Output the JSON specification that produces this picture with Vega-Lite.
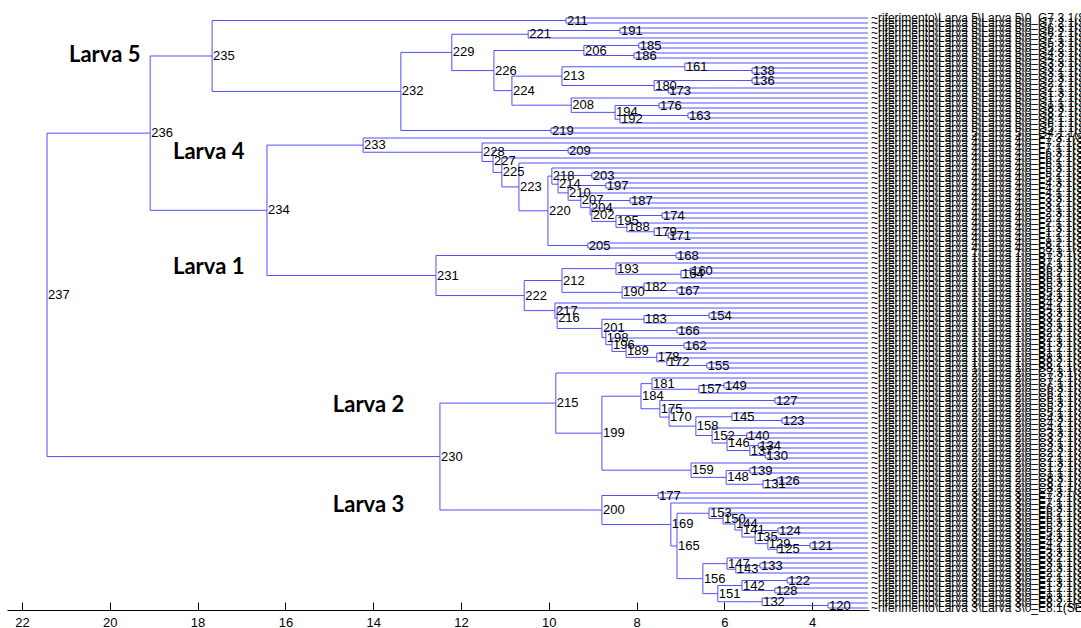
{
"$schema": "https://vega.github.io/schema/vega-lite/v6.json",
"width": 862, "height": 600,
"autosize": {"type": "none"},
"padding": {"left": 7, "top": 10, "right": 212, "bottom": 18},
"background": "white",
"config": {"view": {"stroke": null}},
"datasets": {
"nodes": [
{"n":211,"h":9.61,"y":0.5,"p":17.67,"a":0,"b":1},
{"n":191,"h":8.38,"y":2.5,"p":10.47,"a":2,"b":3},
{"n":221,"h":10.47,"y":3.25,"p":12.21,"a":2.5,"b":4},
{"n":185,"h":7.95,"y":5.5,"p":9.20,"a":5,"b":6},
{"n":186,"h":8.06,"y":7.5,"p":9.20,"a":7,"b":8},
{"n":206,"h":9.20,"y":6.5,"p":11.25,"a":5.5,"b":7.5},
{"n":138,"h":5.37,"y":10.5,"p":6.90,"a":10,"b":11},
{"n":161,"h":6.90,"y":9.75,"p":9.70,"a":9,"b":10.5},
{"n":136,"h":5.37,"y":12.5,"p":7.60,"a":12,"b":13},
{"n":173,"h":7.28,"y":14.5,"p":7.60,"a":14,"b":15},
{"n":180,"h":7.60,"y":13.5,"p":9.70,"a":12.5,"b":14.5},
{"n":213,"h":9.70,"y":11.625,"p":10.84,"a":9.75,"b":13.5},
{"n":176,"h":7.49,"y":17.5,"p":8.49,"a":17,"b":18},
{"n":163,"h":6.83,"y":19.5,"p":8.38,"a":19,"b":20},
{"n":192,"h":8.38,"y":20.25,"p":8.49,"a":19.5,"b":21},
{"n":194,"h":8.49,"y":18.875,"p":9.49,"a":17.5,"b":20.25},
{"n":208,"h":9.49,"y":17.4375,"p":10.84,"a":16,"b":18.875},
{"n":224,"h":10.84,"y":14.531,"p":11.25,"a":11.625,"b":17.4375},
{"n":226,"h":11.25,"y":10.516,"p":12.21,"a":6.5,"b":14.531},
{"n":229,"h":12.21,"y":6.883,"p":13.37,"a":3.25,"b":10.516},
{"n":219,"h":9.95,"y":22.5,"p":13.37,"a":22,"b":23},
{"n":232,"h":13.37,"y":14.691,"p":17.67,"a":6.883,"b":22.5},
{"n":235,"h":17.67,"y":7.596,"p":19.08,"a":0.5,"b":14.691},
{"n":209,"h":9.56,"y":26.5,"p":11.27,"a":26,"b":27},
{"n":203,"h":9.02,"y":31.5,"p":9.79,"a":31,"b":32},
{"n":197,"h":8.70,"y":33.5,"p":9.56,"a":33,"b":34},
{"n":187,"h":8.15,"y":36.5,"p":9.06,"a":36,"b":37},
{"n":174,"h":7.42,"y":39.5,"p":8.47,"a":39,"b":40},
{"n":171,"h":7.28,"y":43.5,"p":7.60,"a":43,"b":44},
{"n":179,"h":7.60,"y":42.75,"p":8.22,"a":42,"b":43.5},
{"n":188,"h":8.22,"y":41.875,"p":8.47,"a":41,"b":42.75},
{"n":195,"h":8.47,"y":40.6875,"p":9.02,"a":39.5,"b":41.875},
{"n":202,"h":9.02,"y":39.344,"p":9.06,"a":38,"b":40.6875},
{"n":204,"h":9.06,"y":37.922,"p":9.27,"a":36.5,"b":39.344},
{"n":207,"h":9.27,"y":36.461,"p":9.56,"a":35,"b":37.922},
{"n":210,"h":9.56,"y":34.980,"p":9.79,"a":33.5,"b":36.461},
{"n":214,"h":9.79,"y":33.240,"p":9.93,"a":31.5,"b":34.980},
{"n":218,"h":9.93,"y":31.620,"p":10.02,"a":30,"b":33.240},
{"n":205,"h":9.11,"y":45.5,"p":10.02,"a":45,"b":46},
{"n":220,"h":10.02,"y":38.560,"p":10.68,"a":31.620,"b":45.5},
{"n":223,"h":10.68,"y":33.780,"p":11.07,"a":29,"b":38.560},
{"n":225,"h":11.07,"y":30.890,"p":11.27,"a":28,"b":33.780},
{"n":227,"h":11.27,"y":28.695,"p":11.52,"a":26.5,"b":30.890},
{"n":228,"h":11.52,"y":26.848,"p":14.23,"a":25,"b":28.695},
{"n":233,"h":14.23,"y":25.424,"p":16.42,"a":24,"b":26.848},
{"n":168,"h":7.10,"y":47.5,"p":12.57,"a":47,"b":48},
{"n":160,"h":6.78,"y":50.5,"p":6.99,"a":50,"b":51},
{"n":164,"h":6.99,"y":51.25,"p":8.47,"a":50.5,"b":52},
{"n":193,"h":8.47,"y":50.125,"p":9.70,"a":49,"b":51.25},
{"n":167,"h":7.08,"y":54.5,"p":7.83,"a":54,"b":55},
{"n":182,"h":7.83,"y":53.75,"p":8.33,"a":53,"b":54.5},
{"n":190,"h":8.33,"y":54.875,"p":9.70,"a":53.75,"b":56},
{"n":212,"h":9.70,"y":52.5,"p":10.56,"a":50.125,"b":54.875},
{"n":154,"h":6.35,"y":59.5,"p":7.83,"a":59,"b":60},
{"n":183,"h":7.83,"y":60.25,"p":8.79,"a":59.5,"b":61},
{"n":166,"h":7.08,"y":62.5,"p":8.70,"a":62,"b":63},
{"n":162,"h":6.92,"y":65.5,"p":8.24,"a":65,"b":66},
{"n":155,"h":6.40,"y":69.5,"p":7.31,"a":69,"b":70},
{"n":172,"h":7.31,"y":68.75,"p":7.54,"a":68,"b":69.5},
{"n":178,"h":7.54,"y":67.875,"p":8.24,"a":67,"b":68.75},
{"n":189,"h":8.24,"y":66.6875,"p":8.56,"a":65.5,"b":67.875},
{"n":196,"h":8.56,"y":65.344,"p":8.70,"a":64,"b":66.6875},
{"n":198,"h":8.70,"y":63.922,"p":8.79,"a":62.5,"b":65.344},
{"n":201,"h":8.79,"y":62.086,"p":9.81,"a":60.25,"b":63.922},
{"n":216,"h":9.81,"y":60.043,"p":9.86,"a":58,"b":62.086},
{"n":217,"h":9.86,"y":58.521,"p":10.56,"a":57,"b":60.043},
{"n":222,"h":10.56,"y":55.511,"p":12.57,"a":52.5,"b":58.521},
{"n":231,"h":12.57,"y":51.505,"p":16.42,"a":47.5,"b":55.511},
{"n":234,"h":16.42,"y":38.465,"p":19.08,"a":25.424,"b":51.505},
{"n":236,"h":19.08,"y":23.030,"p":21.43,"a":7.596,"b":38.465},
{"n":149,"h":6.01,"y":73.5,"p":6.58,"a":73,"b":74},
{"n":157,"h":6.58,"y":74.25,"p":7.65,"a":73.5,"b":75},
{"n":181,"h":7.65,"y":73.125,"p":7.90,"a":72,"b":74.25},
{"n":127,"h":4.85,"y":76.5,"p":7.47,"a":76,"b":77},
{"n":123,"h":4.69,"y":80.5,"p":5.83,"a":80,"b":81},
{"n":145,"h":5.83,"y":79.75,"p":6.65,"a":79,"b":80.5},
{"n":140,"h":5.49,"y":83.5,"p":5.94,"a":83,"b":84},
{"n":134,"h":5.23,"y":85.5,"p":5.42,"a":85,"b":86},
{"n":130,"h":5.07,"y":87.5,"p":5.42,"a":87,"b":88},
{"n":137,"h":5.42,"y":86.5,"p":5.94,"a":85.5,"b":87.5},
{"n":146,"h":5.94,"y":85,"p":6.28,"a":83.5,"b":86.5},
{"n":152,"h":6.28,"y":83.5,"p":6.65,"a":82,"b":85},
{"n":158,"h":6.65,"y":81.625,"p":7.26,"a":79.75,"b":83.5},
{"n":170,"h":7.26,"y":79.8125,"p":7.47,"a":78,"b":81.625},
{"n":175,"h":7.47,"y":78.156,"p":7.90,"a":76.5,"b":79.8125},
{"n":184,"h":7.90,"y":75.641,"p":8.79,"a":73.125,"b":78.156},
{"n":139,"h":5.42,"y":90.5,"p":5.96,"a":90,"b":91},
{"n":126,"h":4.80,"y":92.5,"p":5.12,"a":92,"b":93},
{"n":131,"h":5.12,"y":93.25,"p":5.96,"a":92.5,"b":94},
{"n":148,"h":5.96,"y":91.875,"p":6.76,"a":90.5,"b":93.25},
{"n":159,"h":6.76,"y":90.4375,"p":8.79,"a":89,"b":91.875},
{"n":199,"h":8.79,"y":83.039,"p":9.84,"a":75.641,"b":90.4375},
{"n":215,"h":9.84,"y":77.020,"p":12.48,"a":71,"b":83.039},
{"n":177,"h":7.51,"y":95.5,"p":8.79,"a":95,"b":96},
{"n":124,"h":4.78,"y":102.5,"p":5.30,"a":102,"b":103},
{"n":121,"h":4.05,"y":105.5,"p":4.80,"a":105,"b":106},
{"n":125,"h":4.80,"y":106.25,"p":5.01,"a":105.5,"b":107},
{"n":129,"h":5.01,"y":105.125,"p":5.30,"a":104,"b":106.25},
{"n":135,"h":5.30,"y":103.8125,"p":5.60,"a":102.5,"b":105.125},
{"n":141,"h":5.60,"y":102.406,"p":5.76,"a":101,"b":103.8125},
{"n":144,"h":5.76,"y":101.203,"p":6.03,"a":100,"b":102.406},
{"n":150,"h":6.03,"y":100.102,"p":6.35,"a":99,"b":101.203},
{"n":153,"h":6.35,"y":99.051,"p":7.08,"a":98,"b":100.102},
{"n":133,"h":5.19,"y":109.5,"p":5.74,"a":109,"b":110},
{"n":143,"h":5.74,"y":110.25,"p":5.94,"a":109.5,"b":111},
{"n":147,"h":5.94,"y":109.125,"p":6.49,"a":108,"b":110.25},
{"n":122,"h":4.57,"y":112.5,"p":5.60,"a":112,"b":113},
{"n":128,"h":4.85,"y":114.5,"p":5.60,"a":114,"b":115},
{"n":142,"h":5.60,"y":113.5,"p":6.15,"a":112.5,"b":114.5},
{"n":120,"h":3.64,"y":117.5,"p":5.14,"a":117,"b":118},
{"n":132,"h":5.14,"y":116.75,"p":6.15,"a":116,"b":117.5},
{"n":151,"h":6.15,"y":115.125,"p":6.49,"a":113.5,"b":116.75},
{"n":156,"h":6.49,"y":112.125,"p":7.08,"a":109.125,"b":115.125},
{"n":165,"h":7.08,"y":105.588,"p":7.22,"a":99.051,"b":112.125},
{"n":169,"h":7.22,"y":101.294,"p":8.79,"a":97,"b":105.588},
{"n":200,"h":8.79,"y":98.397,"p":12.48,"a":95.5,"b":101.294},
{"n":230,"h":12.48,"y":87.708,"p":21.43,"a":77.020,"b":98.397},
{"n":237,"h":21.43,"y":55.369,"p":21.43,"a":23.030,"b":87.708}
],
"leaves": [
{"k":0,"h":2.73,"p":9.61,"t":"~riferimento\\Larva 5\\Larva 5\\0_G7.3.1(SE)"},
{"k":1,"h":2.73,"p":9.61,"t":"~riferimento\\Larva 5\\Larva 5\\0_G7.2.1(SE)"},
{"k":2,"h":2.73,"p":8.38,"t":"~riferimento\\Larva 5\\Larva 5\\0_G6.3.1(SE)"},
{"k":3,"h":2.73,"p":8.38,"t":"~riferimento\\Larva 5\\Larva 5\\0_G6.2.1(SE)"},
{"k":4,"h":2.73,"p":10.47,"t":"~riferimento\\Larva 5\\Larva 5\\0_G7.1.1(SE)"},
{"k":5,"h":2.73,"p":7.95,"t":"~riferimento\\Larva 5\\Larva 5\\0_G5.3.1(SE)"},
{"k":6,"h":2.73,"p":7.95,"t":"~riferimento\\Larva 5\\Larva 5\\0_G5.2.1(SE)"},
{"k":7,"h":2.73,"p":8.06,"t":"~riferimento\\Larva 5\\Larva 5\\0_G4.3.1(SE)"},
{"k":8,"h":2.73,"p":8.06,"t":"~riferimento\\Larva 5\\Larva 5\\0_G4.2.1(SE)"},
{"k":9,"h":2.73,"p":6.90,"t":"~riferimento\\Larva 5\\Larva 5\\0_G3.3.1(SE)"},
{"k":10,"h":2.73,"p":5.37,"t":"~riferimento\\Larva 5\\Larva 5\\0_G3.2.1(SE)"},
{"k":11,"h":2.73,"p":5.37,"t":"~riferimento\\Larva 5\\Larva 5\\0_G3.1.1(SE)"},
{"k":12,"h":2.73,"p":5.37,"t":"~riferimento\\Larva 5\\Larva 5\\0_G2.3.1(SE)"},
{"k":13,"h":2.73,"p":5.37,"t":"~riferimento\\Larva 5\\Larva 5\\0_G2.2.1(SE)"},
{"k":14,"h":2.73,"p":7.28,"t":"~riferimento\\Larva 5\\Larva 5\\0_G2.1.1(SE)"},
{"k":15,"h":2.73,"p":7.28,"t":"~riferimento\\Larva 5\\Larva 5\\0_G1.3.1(SE)"},
{"k":16,"h":2.73,"p":9.49,"t":"~riferimento\\Larva 5\\Larva 5\\0_G1.2.1(SE)"},
{"k":17,"h":2.73,"p":7.49,"t":"~riferimento\\Larva 5\\Larva 5\\0_G1.1.1(SE)"},
{"k":18,"h":2.73,"p":7.49,"t":"~riferimento\\Larva 5\\Larva 5\\0_G8.3.1(SE)"},
{"k":19,"h":2.73,"p":6.83,"t":"~riferimento\\Larva 5\\Larva 5\\0_G8.2.1(SE)"},
{"k":20,"h":2.73,"p":6.83,"t":"~riferimento\\Larva 5\\Larva 5\\0_G8.1.1(SE)"},
{"k":21,"h":2.73,"p":8.38,"t":"~riferimento\\Larva 5\\Larva 5\\0_G6.1.1(SE)"},
{"k":22,"h":2.73,"p":9.95,"t":"~riferimento\\Larva 5\\Larva 5\\0_G5.1.1(SE)"},
{"k":23,"h":2.73,"p":9.95,"t":"~riferimento\\Larva 5\\Larva 5\\0_G4.1.1(SE)"},
{"k":24,"h":2.73,"p":14.23,"t":"~riferimento\\Larva 4\\Larva 4\\0_F7.3.1(SE)"},
{"k":25,"h":2.73,"p":11.52,"t":"~riferimento\\Larva 4\\Larva 4\\0_F7.2.1(SE)"},
{"k":26,"h":2.73,"p":9.56,"t":"~riferimento\\Larva 4\\Larva 4\\0_F7.1.1(SE)"},
{"k":27,"h":2.73,"p":9.56,"t":"~riferimento\\Larva 4\\Larva 4\\0_F6.3.1(SE)"},
{"k":28,"h":2.73,"p":11.07,"t":"~riferimento\\Larva 4\\Larva 4\\0_F6.2.1(SE)"},
{"k":29,"h":2.73,"p":10.68,"t":"~riferimento\\Larva 4\\Larva 4\\0_F6.1.1(SE)"},
{"k":30,"h":2.73,"p":9.93,"t":"~riferimento\\Larva 4\\Larva 4\\0_F5.3.1(SE)"},
{"k":31,"h":2.73,"p":9.02,"t":"~riferimento\\Larva 4\\Larva 4\\0_F5.2.1(SE)"},
{"k":32,"h":2.73,"p":9.02,"t":"~riferimento\\Larva 4\\Larva 4\\0_F5.1.1(SE)"},
{"k":33,"h":2.73,"p":8.70,"t":"~riferimento\\Larva 4\\Larva 4\\0_F4.3.1(SE)"},
{"k":34,"h":2.73,"p":8.70,"t":"~riferimento\\Larva 4\\Larva 4\\0_F4.2.1(SE)"},
{"k":35,"h":2.73,"p":9.27,"t":"~riferimento\\Larva 4\\Larva 4\\0_F4.1.1(SE)"},
{"k":36,"h":2.73,"p":8.15,"t":"~riferimento\\Larva 4\\Larva 4\\0_F3.3.1(SE)"},
{"k":37,"h":2.73,"p":8.15,"t":"~riferimento\\Larva 4\\Larva 4\\0_F3.2.1(SE)"},
{"k":38,"h":2.73,"p":9.02,"t":"~riferimento\\Larva 4\\Larva 4\\0_F3.1.1(SE)"},
{"k":39,"h":2.73,"p":7.42,"t":"~riferimento\\Larva 4\\Larva 4\\0_F2.3.1(SE)"},
{"k":40,"h":2.73,"p":7.42,"t":"~riferimento\\Larva 4\\Larva 4\\0_F2.2.1(SE)"},
{"k":41,"h":2.73,"p":8.22,"t":"~riferimento\\Larva 4\\Larva 4\\0_F2.1.1(SE)"},
{"k":42,"h":2.73,"p":7.60,"t":"~riferimento\\Larva 4\\Larva 4\\0_F1.3.1(SE)"},
{"k":43,"h":2.73,"p":7.28,"t":"~riferimento\\Larva 4\\Larva 4\\0_F1.2.1(SE)"},
{"k":44,"h":2.73,"p":7.28,"t":"~riferimento\\Larva 4\\Larva 4\\0_F1.1.1(SE)"},
{"k":45,"h":2.73,"p":9.11,"t":"~riferimento\\Larva 4\\Larva 4\\0_F8.2.1(SE)"},
{"k":46,"h":2.73,"p":9.11,"t":"~riferimento\\Larva 4\\Larva 4\\0_F8.1.1(SE)"},
{"k":47,"h":2.73,"p":7.10,"t":"~riferimento\\Larva 1\\Larva 1\\0_B7.3.1(SE)"},
{"k":48,"h":2.73,"p":7.10,"t":"~riferimento\\Larva 1\\Larva 1\\0_B7.2.1(SE)"},
{"k":49,"h":2.73,"p":8.47,"t":"~riferimento\\Larva 1\\Larva 1\\0_B7.1.1(SE)"},
{"k":50,"h":2.73,"p":6.78,"t":"~riferimento\\Larva 1\\Larva 1\\0_B6.3.1(SE)"},
{"k":51,"h":2.73,"p":6.78,"t":"~riferimento\\Larva 1\\Larva 1\\0_B6.2.1(SE)"},
{"k":52,"h":2.73,"p":6.99,"t":"~riferimento\\Larva 1\\Larva 1\\0_B6.1.1(SE)"},
{"k":53,"h":2.73,"p":7.83,"t":"~riferimento\\Larva 1\\Larva 1\\0_B5.3.1(SE)"},
{"k":54,"h":2.73,"p":7.08,"t":"~riferimento\\Larva 1\\Larva 1\\0_B5.2.1(SE)"},
{"k":55,"h":2.73,"p":7.08,"t":"~riferimento\\Larva 1\\Larva 1\\0_B5.1.1(SE)"},
{"k":56,"h":2.73,"p":8.33,"t":"~riferimento\\Larva 1\\Larva 1\\0_B4.3.1(SE)"},
{"k":57,"h":2.73,"p":9.86,"t":"~riferimento\\Larva 1\\Larva 1\\0_B4.2.1(SE)"},
{"k":58,"h":2.73,"p":9.81,"t":"~riferimento\\Larva 1\\Larva 1\\0_B4.1.1(SE)"},
{"k":59,"h":2.73,"p":6.35,"t":"~riferimento\\Larva 1\\Larva 1\\0_B3.3.1(SE)"},
{"k":60,"h":2.73,"p":6.35,"t":"~riferimento\\Larva 1\\Larva 1\\0_B3.2.1(SE)"},
{"k":61,"h":2.73,"p":7.83,"t":"~riferimento\\Larva 1\\Larva 1\\0_B3.1.1(SE)"},
{"k":62,"h":2.73,"p":7.08,"t":"~riferimento\\Larva 1\\Larva 1\\0_B2.3.1(SE)"},
{"k":63,"h":2.73,"p":7.08,"t":"~riferimento\\Larva 1\\Larva 1\\0_B2.2.1(SE)"},
{"k":64,"h":2.73,"p":8.56,"t":"~riferimento\\Larva 1\\Larva 1\\0_B2.1.1(SE)"},
{"k":65,"h":2.73,"p":6.92,"t":"~riferimento\\Larva 1\\Larva 1\\0_B1.3.1(SE)"},
{"k":66,"h":2.73,"p":6.92,"t":"~riferimento\\Larva 1\\Larva 1\\0_B1.2.1(SE)"},
{"k":67,"h":2.73,"p":7.54,"t":"~riferimento\\Larva 1\\Larva 1\\0_B1.1.1(SE)"},
{"k":68,"h":2.73,"p":7.31,"t":"~riferimento\\Larva 1\\Larva 1\\0_B8.3.1(SE)"},
{"k":69,"h":2.73,"p":6.40,"t":"~riferimento\\Larva 1\\Larva 1\\0_B8.2.1(SE)"},
{"k":70,"h":2.73,"p":6.40,"t":"~riferimento\\Larva 1\\Larva 1\\0_B8.1.1(SE)"},
{"k":71,"h":2.73,"p":9.84,"t":"~riferimento\\Larva 2\\Larva 2\\0_C7.3.1(SE)"},
{"k":72,"h":2.73,"p":7.65,"t":"~riferimento\\Larva 2\\Larva 2\\0_C7.2.1(SE)"},
{"k":73,"h":2.73,"p":6.01,"t":"~riferimento\\Larva 2\\Larva 2\\0_C7.1.1(SE)"},
{"k":74,"h":2.73,"p":6.01,"t":"~riferimento\\Larva 2\\Larva 2\\0_C6.3.1(SE)"},
{"k":75,"h":2.73,"p":6.58,"t":"~riferimento\\Larva 2\\Larva 2\\0_C6.2.1(SE)"},
{"k":76,"h":2.73,"p":4.85,"t":"~riferimento\\Larva 2\\Larva 2\\0_C6.1.1(SE)"},
{"k":77,"h":2.73,"p":4.85,"t":"~riferimento\\Larva 2\\Larva 2\\0_C5.3.1(SE)"},
{"k":78,"h":2.73,"p":7.26,"t":"~riferimento\\Larva 2\\Larva 2\\0_C5.2.1(SE)"},
{"k":79,"h":2.73,"p":5.83,"t":"~riferimento\\Larva 2\\Larva 2\\0_C5.1.1(SE)"},
{"k":80,"h":2.73,"p":4.69,"t":"~riferimento\\Larva 2\\Larva 2\\0_C4.3.1(SE)"},
{"k":81,"h":2.73,"p":4.69,"t":"~riferimento\\Larva 2\\Larva 2\\0_C4.2.1(SE)"},
{"k":82,"h":2.73,"p":6.28,"t":"~riferimento\\Larva 2\\Larva 2\\0_C4.1.1(SE)"},
{"k":83,"h":2.73,"p":5.49,"t":"~riferimento\\Larva 2\\Larva 2\\0_C3.3.1(SE)"},
{"k":84,"h":2.73,"p":5.49,"t":"~riferimento\\Larva 2\\Larva 2\\0_C3.2.1(SE)"},
{"k":85,"h":2.73,"p":5.23,"t":"~riferimento\\Larva 2\\Larva 2\\0_C3.1.1(SE)"},
{"k":86,"h":2.73,"p":5.23,"t":"~riferimento\\Larva 2\\Larva 2\\0_C2.3.1(SE)"},
{"k":87,"h":2.73,"p":5.07,"t":"~riferimento\\Larva 2\\Larva 2\\0_C2.2.1(SE)"},
{"k":88,"h":2.73,"p":5.07,"t":"~riferimento\\Larva 2\\Larva 2\\0_C2.1.1(SE)"},
{"k":89,"h":2.73,"p":6.76,"t":"~riferimento\\Larva 2\\Larva 2\\0_C1.3.1(SE)"},
{"k":90,"h":2.73,"p":5.42,"t":"~riferimento\\Larva 2\\Larva 2\\0_C1.2.1(SE)"},
{"k":91,"h":2.73,"p":5.42,"t":"~riferimento\\Larva 2\\Larva 2\\0_C1.1.1(SE)"},
{"k":92,"h":2.73,"p":4.80,"t":"~riferimento\\Larva 2\\Larva 2\\0_C8.3.1(SE)"},
{"k":93,"h":2.73,"p":4.80,"t":"~riferimento\\Larva 2\\Larva 2\\0_C8.2.1(SE)"},
{"k":94,"h":2.73,"p":5.12,"t":"~riferimento\\Larva 2\\Larva 2\\0_C8.1.1(SE)"},
{"k":95,"h":2.73,"p":7.51,"t":"~riferimento\\Larva 3\\Larva 3\\0_E7.3.1(SE)"},
{"k":96,"h":2.73,"p":7.51,"t":"~riferimento\\Larva 3\\Larva 3\\0_E7.2.1(SE)"},
{"k":97,"h":2.73,"p":7.22,"t":"~riferimento\\Larva 3\\Larva 3\\0_E7.1.1(SE)"},
{"k":98,"h":2.73,"p":6.35,"t":"~riferimento\\Larva 3\\Larva 3\\0_E6.3.1(SE)"},
{"k":99,"h":2.73,"p":6.03,"t":"~riferimento\\Larva 3\\Larva 3\\0_E6.2.1(SE)"},
{"k":100,"h":2.73,"p":5.76,"t":"~riferimento\\Larva 3\\Larva 3\\0_E6.1.1(SE)"},
{"k":101,"h":2.73,"p":5.60,"t":"~riferimento\\Larva 3\\Larva 3\\0_E5.3.1(SE)"},
{"k":102,"h":2.73,"p":4.78,"t":"~riferimento\\Larva 3\\Larva 3\\0_E5.2.1(SE)"},
{"k":103,"h":2.73,"p":4.78,"t":"~riferimento\\Larva 3\\Larva 3\\0_E5.1.1(SE)"},
{"k":104,"h":2.73,"p":5.01,"t":"~riferimento\\Larva 3\\Larva 3\\0_E4.3.1(SE)"},
{"k":105,"h":2.73,"p":4.05,"t":"~riferimento\\Larva 3\\Larva 3\\0_E4.2.1(SE)"},
{"k":106,"h":2.73,"p":4.05,"t":"~riferimento\\Larva 3\\Larva 3\\0_E4.1.1(SE)"},
{"k":107,"h":2.73,"p":4.80,"t":"~riferimento\\Larva 3\\Larva 3\\0_E3.3.1(SE)"},
{"k":108,"h":2.73,"p":5.94,"t":"~riferimento\\Larva 3\\Larva 3\\0_E3.2.1(SE)"},
{"k":109,"h":2.73,"p":5.19,"t":"~riferimento\\Larva 3\\Larva 3\\0_E3.1.1(SE)"},
{"k":110,"h":2.73,"p":5.19,"t":"~riferimento\\Larva 3\\Larva 3\\0_E2.3.1(SE)"},
{"k":111,"h":2.73,"p":5.74,"t":"~riferimento\\Larva 3\\Larva 3\\0_E2.2.1(SE)"},
{"k":112,"h":2.73,"p":4.57,"t":"~riferimento\\Larva 3\\Larva 3\\0_E2.1.1(SE)"},
{"k":113,"h":2.73,"p":4.57,"t":"~riferimento\\Larva 3\\Larva 3\\0_E1.3.1(SE)"},
{"k":114,"h":2.73,"p":4.85,"t":"~riferimento\\Larva 3\\Larva 3\\0_E1.2.1(SE)"},
{"k":115,"h":2.73,"p":4.85,"t":"~riferimento\\Larva 3\\Larva 3\\0_E1.1.1(SE)"},
{"k":116,"h":2.73,"p":5.14,"t":"~riferimento\\Larva 3\\Larva 3\\0_E8.3.1(SE)"},
{"k":117,"h":2.73,"p":3.64,"t":"~riferimento\\Larva 3\\Larva 3\\0_E8.2.1(SE)"},
{"k":118,"h":2.73,"p":3.64,"t":"~riferimento\\Larva 3\\Larva 3\\0_E8.1(SE)"}
],
"tags": [
{"t":"Larva 5","h":20.93,"y":7.4},
{"t":"Larva 4","h":18.56,"y":26.8},
{"t":"Larva 1","h":18.56,"y":49.8},
{"t":"Larva 2","h":14.92,"y":77.4},
{"t":"Larva 3","h":14.92,"y":97.4}
]
},
"layer": [
{
"data": {"name": "nodes"},
"mark": {"type": "rule", "color": "#5050ff", "strokeWidth": 1},
"encoding": {
"x": {"field": "h", "type": "quantitative",
"scale": {"domain": [2.706, 22.342], "reverse": true, "nice": false, "zero": false},
"axis": {"values": [4, 6, 8, 10, 12, 14, 16, 18, 20, 22], "title": null, "grid": false,
"domainColor": "#000000", "tickColor": "#000000", "tickSize": -8, "labelPadding": 14,
"labelColor": "#000000", "labelFont": "Liberation Sans Narrow, Liberation Sans", "labelFontSize": 13}},
"x2": {"field": "p"},
"y": {"field": "y", "type": "quantitative",
"scale": {"domain": [-1.6, 118.4], "reverse": true, "nice": false, "zero": false},
"axis": null}
}
},
{
"data": {"name": "nodes"},
"mark": {"type": "rule", "color": "#5050ff", "strokeWidth": 1},
"encoding": {
"x": {"field": "h", "type": "quantitative"},
"y": {"field": "a", "type": "quantitative"},
"y2": {"field": "b"}
}
},
{
"data": {"name": "leaves"},
"mark": {"type": "rule", "color": "#5050ff", "strokeWidth": 1},
"encoding": {
"x": {"field": "h", "type": "quantitative"},
"x2": {"field": "p"},
"y": {"field": "k", "type": "quantitative"}
}
},
{
"data": {"name": "nodes"},
"mark": {"type": "text", "align": "left", "baseline": "middle", "dx": 1, "fontSize": 13,
"font": "Liberation Sans Narrow, Liberation Sans", "color": "#000000"},
"encoding": {
"x": {"field": "h", "type": "quantitative"},
"y": {"field": "y", "type": "quantitative"},
"text": {"field": "n", "type": "nominal"}
}
},
{
"data": {"name": "leaves"},
"mark": {"type": "text", "align": "left", "baseline": "middle", "dx": 3, "fontSize": 12,
"font": "Liberation Sans Narrow, Liberation Sans", "color": "#000000"},
"encoding": {
"x": {"field": "h", "type": "quantitative"},
"y": {"field": "k", "type": "quantitative"},
"text": {"field": "t", "type": "nominal"}
}
},
{
"data": {"name": "tags"},
"mark": {"type": "text", "align": "left", "baseline": "middle", "fontSize": 22, "fontWeight": "bold",
"font": "Lato", "color": "#000000"},
"encoding": {
"x": {"field": "h", "type": "quantitative"},
"y": {"field": "y", "type": "quantitative"},
"text": {"field": "t", "type": "nominal"}
}
}
]
}
